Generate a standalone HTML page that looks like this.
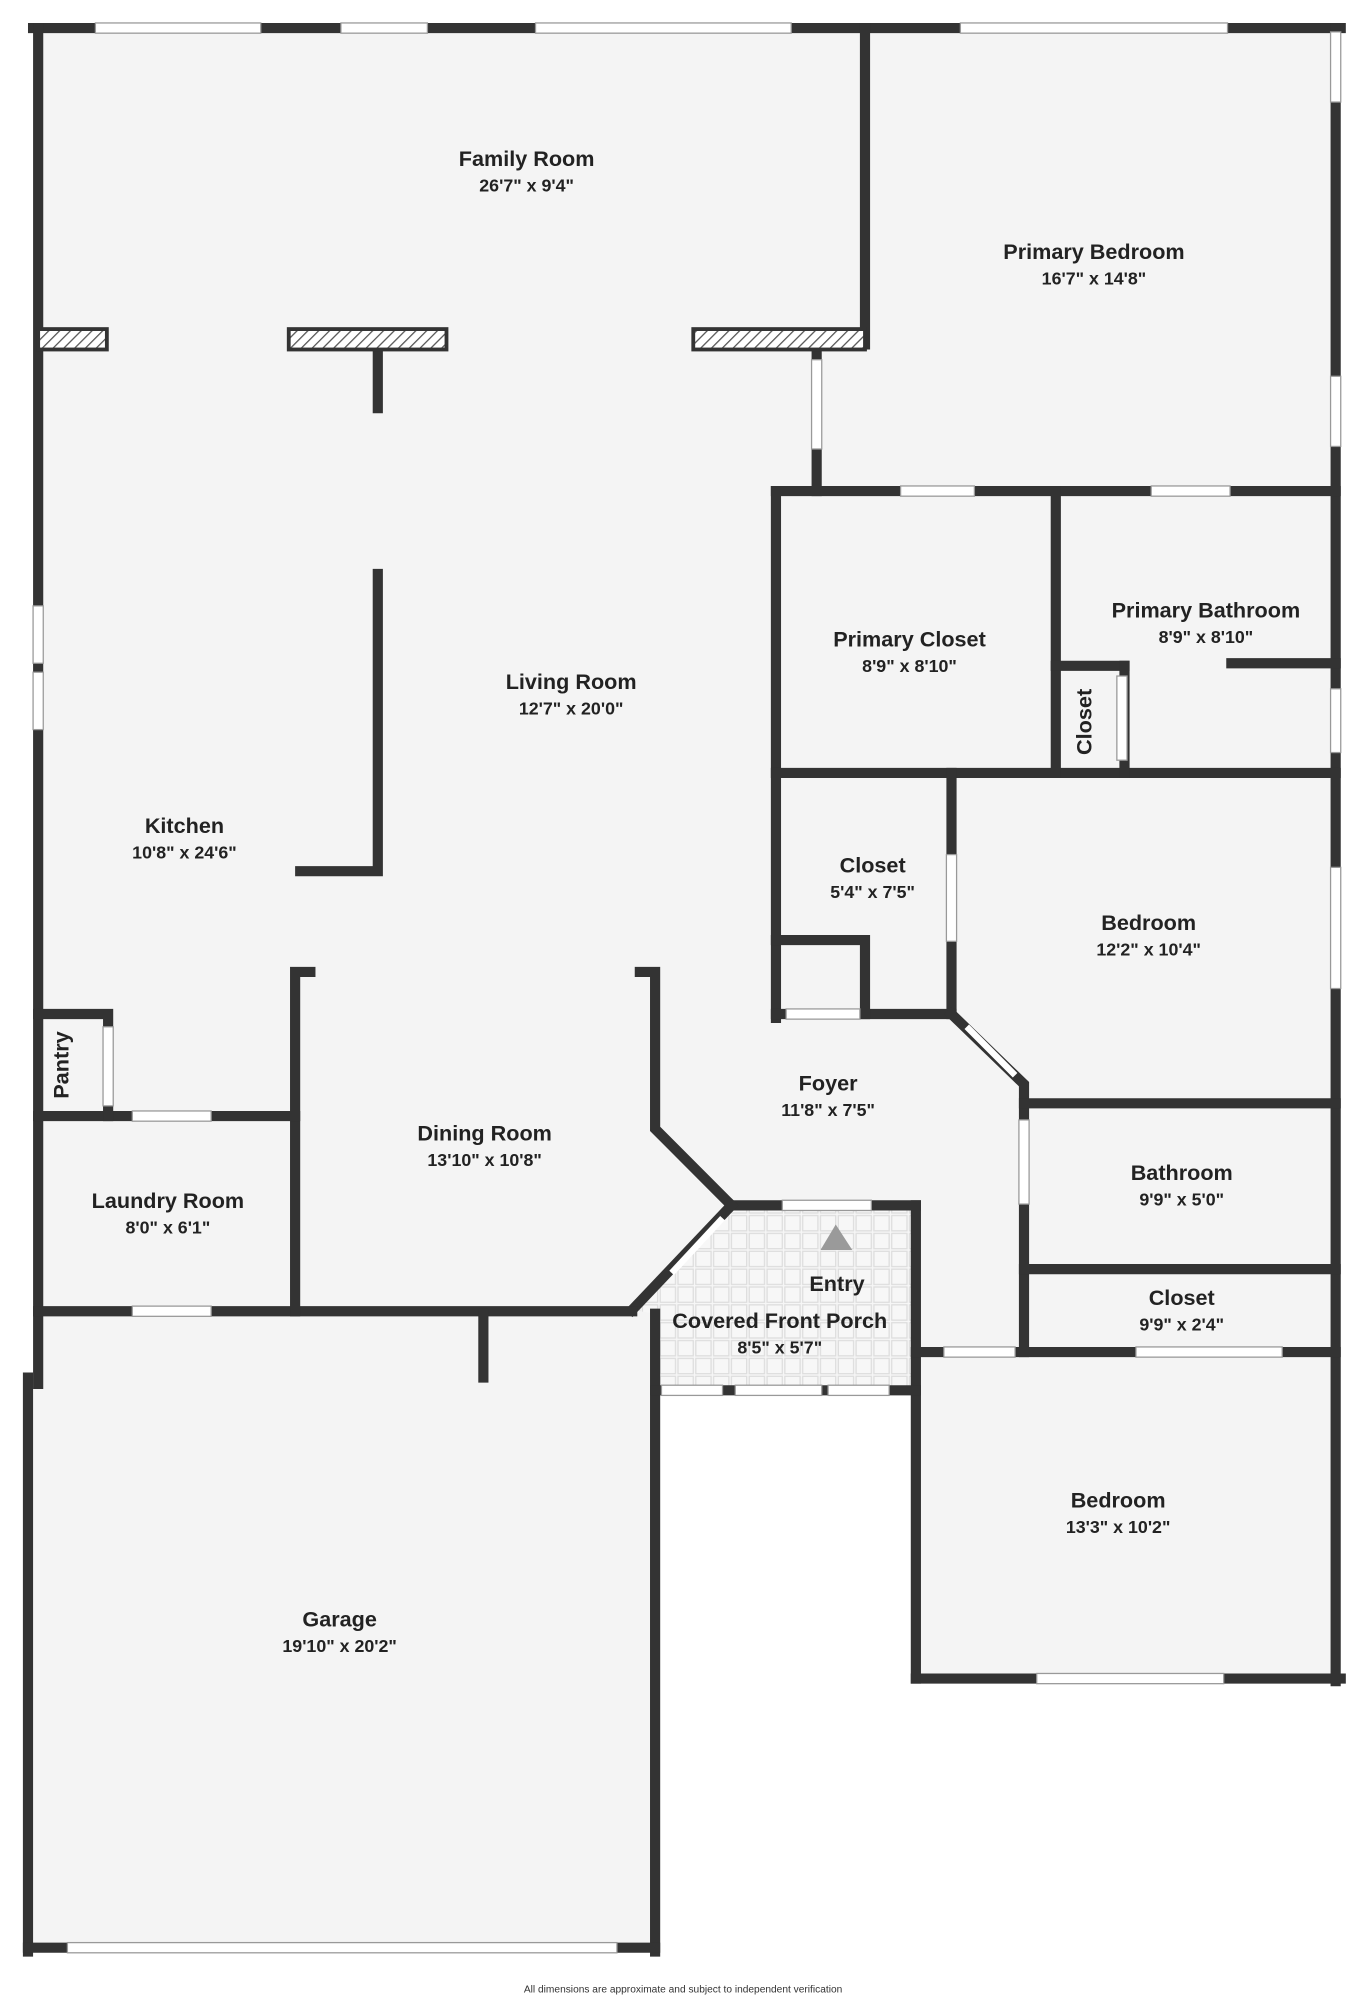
<!DOCTYPE html>
<html><head><meta charset="utf-8"><style>
html,body{margin:0;padding:0;background:#fff;}
svg{display:block;}
text{font-family:"Liberation Sans",sans-serif;fill:#222;text-anchor:middle;}
.n{font-size:17px;font-weight:bold;}
.d{font-size:14px;font-weight:bold;}
</style></head><body>
<svg width="1370" height="2000" viewBox="0 0 1077 1568" preserveAspectRatio="none" xmlns="http://www.w3.org/2000/svg">
<defs>
<pattern id="tile" width="14" height="14" patternUnits="userSpaceOnUse">
<rect width="14" height="14" fill="#f7f7f7"/><rect x="1" y="1" width="12" height="12" fill="none" stroke="#ddd" stroke-width="1"/>
</pattern>
<pattern id="hatch" width="6" height="6" patternUnits="userSpaceOnUse" patternTransform="rotate(45)">
<rect width="6" height="6" fill="#fff"/><line x1="0" y1="0" x2="0" y2="6" stroke="#555" stroke-width="2"/>
</pattern>
</defs>
<!-- floor fills -->
<polygon fill="#f4f4f4" points="30,22 1050,22 1050,1316 720,1316 720,1090 515,1090 515,1527 22,1527 22,1080 30,1080"/>
<polygon fill="url(#tile)" points="575,945 720,945 720,1090 515,1090 515,1030 497,1027"/>
<polygon fill="#9a9a9a" points="657,960 645,980 670,980"/>
<g stroke="#333" stroke-width="8" fill="none" stroke-linecap="square">
<!-- outer -->
<path d="M26,22 H1054"/>
<path d="M30,22 V1085"/>
<path d="M680,22 V270"/>
<path d="M1050,22 V1318"/>
<path d="M720,1316 H1054"/>
<path d="M720,945 V1316"/>
<path d="M575,945 H720"/>
<path d="M515,1030 V1530"/>
<path d="M515,1090 H720"/>
<path d="M575,945 L497,1027"/>
<path d="M22,1080 V1530"/>
<path d="M22,1527 H515"/>
<path d="M30,1028 H497"/>
<path d="M380,1030 V1080"/>
<!-- primary -->
<path d="M642,270 V385"/>
<path d="M610,385 H1050"/>
<path d="M610,385 V798"/>
<path d="M610,606 H1050"/>
<path d="M830,385 V606"/>
<path d="M830,522 H884"/>
<path d="M884,522 V606"/>
<path d="M968,520 H1050"/>
<!-- closet -->
<path d="M748,606 V795"/>
<path d="M610,795 H748"/>
<path d="M610,737 H680 V795"/>
<!-- bedroom -->
<path d="M748,795 L805,850 V1060"/>
<path d="M805,865 H1050"/>
<path d="M805,995 H1050"/>
<path d="M720,1060 H1050"/>
<!-- foyer / dining -->
<path d="M503,762 H515 V885 L575,945"/>
<path d="M244,762 H232 V1028"/>
<path d="M30,875 H232"/>
<path d="M30,795 H85 V875"/>
<!-- living -->
<path d="M297,450 V683 H236"/>
<path d="M297,270 V320"/>
</g>
<!-- beams -->
<g stroke="#333" stroke-width="3" fill="url(#hatch)">
<rect x="30" y="258" width="54" height="16"/>
<rect x="227" y="258" width="124" height="16"/>
<rect x="545" y="258" width="135" height="16"/>
</g>
<!-- windows / doors (white gaps) -->
<g fill="#fff" stroke="#999" stroke-width="1">
<rect x="75" y="18" width="130" height="8"/>
<rect x="268" y="18" width="68" height="8"/>
<rect x="421" y="18" width="201" height="8"/>
<rect x="755" y="18" width="210" height="8"/>
<rect x="1046" y="25" width="8" height="55"/>
<rect x="1046" y="295" width="8" height="55"/>
<rect x="1046" y="540" width="8" height="50"/>
<rect x="1046" y="680" width="8" height="95"/>
<rect x="815" y="1312" width="147" height="8"/>
<rect x="53" y="1523" width="432" height="8"/>
<rect x="26" y="475" width="8" height="45"/>
<rect x="26" y="527" width="8" height="45"/>
<rect x="638" y="282" width="8" height="70"/>
<rect x="708" y="381" width="58" height="8"/>
<rect x="905" y="381" width="62" height="8"/>
<rect x="878" y="530" width="8" height="66"/>
<rect x="744" y="670" width="8" height="68"/>
<rect x="618" y="791" width="58" height="8"/>
<rect x="801" y="878" width="8" height="66"/>
<rect x="742" y="1056" width="56" height="8"/>
<rect x="893" y="1056" width="115" height="8"/>
<rect x="81" y="805" width="8" height="62"/>
<rect x="104" y="871" width="62" height="8"/>
<rect x="104" y="1024" width="62" height="8"/>
<rect x="615" y="941" width="70" height="8"/>
<rect x="520" y="1086" width="48" height="8"/>
<rect x="578" y="1086" width="68" height="8"/>
<rect x="651" y="1086" width="48" height="8"/>
</g>
<line x1="760" y1="805" x2="798" y2="843" stroke="#fff" stroke-width="5"/>
<line x1="528" y1="998" x2="568" y2="955" stroke="#fff" stroke-width="5"/>
<!-- labels -->
<text class="n" x="414" y="130">Family Room</text><text class="d" x="414" y="150">26'7" x 9'4"</text>
<text class="n" x="860" y="203">Primary Bedroom</text><text class="d" x="860" y="223">16'7" x 14'8"</text>
<text class="n" x="948" y="484">Primary Bathroom</text><text class="d" x="948" y="504">8'9" x 8'10"</text>
<text class="n" x="715" y="507">Primary Closet</text><text class="d" x="715" y="527">8'9" x 8'10"</text>
<text class="n" x="449" y="540">Living Room</text><text class="d" x="449" y="560">12'7" x 20'0"</text>
<text class="n" x="145" y="653">Kitchen</text><text class="d" x="145" y="673">10'8" x 24'6"</text>
<text class="n" x="686" y="684">Closet</text><text class="d" x="686" y="704">5'4" x 7'5"</text>
<text class="n" x="903" y="729">Bedroom</text><text class="d" x="903" y="749">12'2" x 10'4"</text>
<text class="n" x="651" y="855">Foyer</text><text class="d" x="651" y="875">11'8" x 7'5"</text>
<text class="n" x="381" y="894">Dining Room</text><text class="d" x="381" y="914">13'10" x 10'8"</text>
<text class="n" x="929" y="925">Bathroom</text><text class="d" x="929" y="945">9'9" x 5'0"</text>
<text class="n" x="132" y="947">Laundry Room</text><text class="d" x="132" y="967">8'0" x 6'1"</text>
<text class="n" x="658" y="1012">Entry</text>
<text class="n" x="929" y="1023">Closet</text><text class="d" x="929" y="1043">9'9" x 2'4"</text>
<text class="n" x="613" y="1041">Covered Front Porch</text><text class="d" x="613" y="1061">8'5" x 5'7"</text>
<text class="n" x="879" y="1182">Bedroom</text><text class="d" x="879" y="1202">13'3" x 10'2"</text>
<text class="n" x="267" y="1275">Garage</text><text class="d" x="267" y="1295">19'10" x 20'2"</text>
<text class="n" transform="translate(858,566) rotate(-90)">Closet</text>
<text class="n" transform="translate(54,835) rotate(-90)">Pantry</text>
<text x="537" y="1562" style="font-size:8px;fill:#333">All dimensions are approximate and subject to independent verification</text>
</svg>
</body></html>
